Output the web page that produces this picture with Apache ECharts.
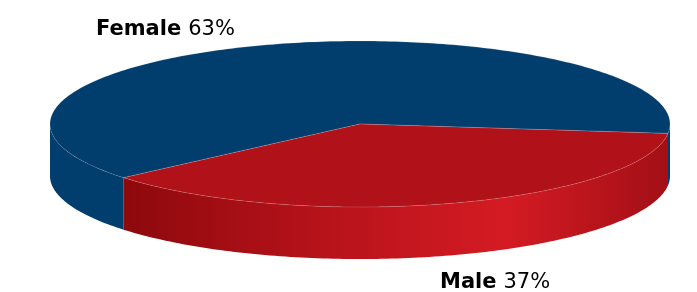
<!DOCTYPE html>
<html>
<head>
<meta charset="utf-8">
<script src="https://cdn.jsdelivr.net/npm/echarts@6/dist/echarts.min.js"></script>
<style>
  html, body { margin: 0; padding: 0; background: #fff; }
  #main { width: 697px; height: 292px; }
</style>
</head>
<body>
<div id="main"></div>
<script>
var categories = ['Female', 'Male'];
var shares = [63, 37];
var labelTexts = ['63%', '37%'];

var chart = echarts.init(document.getElementById('main'));

// ellipse layout of the "3d" pie
var cx = 360, cy = 124, rx = 310, ry = 83, depth = 52;
var startDeg = 6.5; // male slice begins just below the right edge, going clockwise
var topColors = ['#013d6d', '#b11119'];
var sideColors = [
    '#013d6d',
    {
        type: 'linear', x: 0, y: 0, x2: 1, y2: 0,
        colorStops: [
            { offset: 0, color: '#8d090c' },
            { offset: 0.35, color: '#b5121a' },
            { offset: 0.7, color: '#d41b23' },
            { offset: 1, color: '#a30f16' }
        ]
    }
];
var labelPos = [[96, 30], [440, 283]];

var total = shares.reduce(function (a, b) { return a + b; }, 0);
// male first (clockwise from startDeg), then female
function sliceAngles(i) {
    var order = [1, 0];
    var a = startDeg;
    for (var k = 0; k < order.length; k++) {
        var span = shares[order[k]] / total * 360;
        if (order[k] === i) return [a, a + span];
        a += span;
    }
}

function pt(deg, dy) {
    var t = deg * Math.PI / 180;
    return [cx + rx * Math.cos(t), cy + ry * Math.sin(t) + (dy || 0)];
}

function arcPoints(a0, a1, dy) {
    var pts = [];
    var n = Math.max(2, Math.ceil(Math.abs(a1 - a0)));
    for (var s = 0; s <= n; s++) pts.push(pt(a0 + (a1 - a0) * s / n, dy));
    return pts;
}

// front (visible) part of an angular range: sin > 0 -> 0..180 (mod 360)
function frontRanges(a0, a1) {
    var out = [];
    for (var base = -360; base <= 360; base += 360) {
        var lo = Math.max(a0, base), hi = Math.min(a1, base + 180);
        if (hi > lo) out.push([lo, hi]);
    }
    return out;
}

function renderSide(params, api) {
    var i = params.dataIndex;
    var ang = sliceAngles(i);
    var children = frontRanges(ang[0], ang[1]).map(function (r) {
        var top = arcPoints(r[0], r[1], 0);
        var bottom = arcPoints(r[1], r[0], depth);
        return {
            type: 'polygon',
            shape: { points: top.concat(bottom) },
            style: { fill: sideColors[i], stroke: null }
        };
    });
    return { type: 'group', children: children };
}

function renderTop(params, api) {
    var i = params.dataIndex;
    var ang = sliceAngles(i);
    var pts = [[cx, cy]].concat(arcPoints(ang[0], ang[1], 0));
    var lp = labelPos[i];
    return {
        type: 'group',
        children: [
            {
                type: 'polygon',
                shape: { points: pts },
                style: { fill: topColors[i], stroke: 'rgba(255,255,255,0.25)', lineWidth: 0.6 }
            },
            {
                type: 'text',
                x: lp[0], y: lp[1],
                style: {
                    text: '{b|' + categories[i] + '}{v|' + labelTexts[i] + '}',
                    verticalAlign: 'middle',
                    rich: {
                        b: { fontFamily: 'DejaVu Sans', fontSize: 21, fontWeight: 'bold', fill: '#000' },
                        v: { fontFamily: 'DejaVu Sans', fontSize: 21, fill: '#000', padding: [0, 0, 0, 7] }
                    }
                }
            }
        ]
    };
}

var seriesData = categories.map(function (c, i) { return { name: c, value: shares[i] }; });

chart.setOption({
    animation: false,
    series: [
        { type: 'custom', coordinateSystem: 'none', renderItem: renderSide, data: seriesData, z: 1 },
        { type: 'custom', coordinateSystem: 'none', renderItem: renderTop, data: seriesData, z: 2 }
    ]
});
</script>
</body>
</html>
